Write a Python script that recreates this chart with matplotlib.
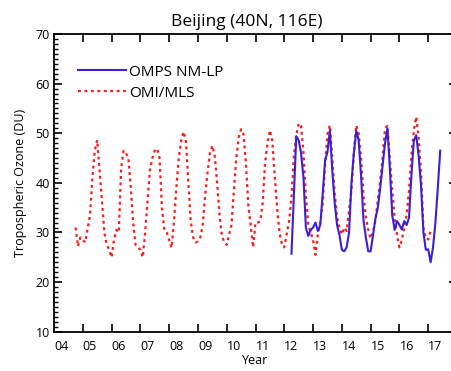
import numpy as np
import matplotlib
matplotlib.use("Agg")
import matplotlib.pyplot as plt

# OMI/MLS monthly tropospheric ozone (DU), Oct 2004 - Feb 2017
omi_start = (2004, 10)
omi_mls = [
    31.0, 27.2, 29.0,
    28.5, 28.0, 30.8, 33.5, 41.0, 46.5, 48.6, 42.5, 36.4, 30.0, 27.5, 26.5,
    25.0, 28.5, 30.5, 30.0, 43.0, 46.5, 46.0, 45.0, 39.0, 32.0, 27.5, 27.0,
    26.5, 25.0, 30.0, 36.5, 42.5, 45.0, 46.5, 46.9, 45.0, 35.0, 30.5, 30.0,
    28.5, 26.9, 32.0, 39.0, 45.0, 48.5, 50.3, 48.5, 40.0, 32.3, 29.0, 28.0,
    28.2, 29.0, 31.5, 37.5, 42.0, 46.0, 47.5, 45.5, 40.0, 33.5, 29.3, 28.0,
    27.5, 29.6, 31.5, 38.5, 45.0, 49.2, 50.8, 49.8, 44.0, 35.5, 31.5, 27.0,
    32.0, 32.0, 32.3, 36.0, 44.0, 48.0, 50.6, 48.5, 41.5, 35.0, 30.0, 27.7,
    27.0, 29.6, 32.3, 37.0, 45.5, 49.5, 52.0, 51.5, 46.0, 37.5, 31.5, 30.0,
    28.5, 25.5, 29.6, 32.0, 35.7, 43.5, 49.9, 51.6, 45.0, 38.0, 33.0, 31.0,
    29.6, 31.0, 30.3, 34.5, 38.5, 46.0, 51.6, 50.0, 45.0, 37.7, 33.0, 30.5,
    28.8, 30.0, 32.5, 36.5, 40.5, 45.0, 51.0, 51.5, 45.0, 38.5, 33.0, 29.5,
    27.0, 28.5, 31.0, 33.5, 38.5, 45.5, 50.5, 53.3, 49.2, 42.0, 31.0, 28.8,
    28.6, 30.3,
]

# OMPS NM-LP monthly tropospheric ozone (DU), Apr 2012 - Jun 2017
omps_start = (2012, 4)
omps = [
    25.7, 37.5, 49.4, 48.6, 46.0, 41.0, 31.0, 29.3, 30.5,
    31.0, 32.0, 30.3, 31.5, 37.7, 44.5, 46.2, 50.6, 42.5, 36.0, 31.5, 29.5,
    26.5, 26.2, 27.0, 30.0, 40.0, 46.0, 50.5, 48.6, 41.5, 32.5, 29.0, 26.2,
    26.2, 29.5, 32.8, 35.0, 39.0, 43.5, 48.0, 51.0, 43.0, 33.5, 30.5, 32.3,
    31.5, 30.6, 32.3, 31.5, 33.0, 41.5, 48.5, 49.6, 45.5, 39.5, 30.0, 26.5,
    26.6, 24.0, 27.0, 32.0, 39.0, 46.5,
]

year_labels = ["04", "05", "06", "07", "08", "09", "10", "11", "12",
               "13", "14", "15", "16", "17"]


def month_axis(start, n):
    y0, m0 = start
    return y0 + (m0 - 1) / 12 + np.arange(n) / 12


plt.rcParams["font.family"] = ["Open Sans", "DejaVu Sans"]

fig = plt.figure(figsize=(4.52, 3.71), dpi=100)
ax = fig.add_axes([54 / 452, 39.3 / 371, 403 / 452, 297.7 / 371])

ax.plot(month_axis(omps_start, len(omps)), omps, color="#3a1fd8", lw=1.5,
        label="OMPS NM-LP", zorder=3)
ax.plot(month_axis(omi_start, len(omi_mls)), omi_mls, color="#ff1a1a",
        lw=1.6, dashes=(1.3, 1.6), label="OMI/MLS", zorder=2)

ax.set_xlim(2004, 2018)
ax.set_ylim(10, 70)

years = np.arange(2004, 2018)
ax.set_xticks(years[1:])
ax.set_xticklabels([])
ax.set_xticks(years + 0.25, year_labels, minor=True)
ax.set_yticks(np.arange(10, 71, 10))
ax.set_yticks(np.arange(10, 71, 1), minor=True)

ax.tick_params(axis="both", which="major", direction="in", length=6,
               width=1.2, top=True, right=True, labelsize=9, colors="black")
ax.tick_params(axis="x", which="minor", length=0, labelsize=9, pad=6)
ax.tick_params(axis="y", which="minor", direction="in", length=3,
               width=1.0, right=True)
ax.tick_params(axis="y", which="major", pad=3)

for s in ax.spines.values():
    s.set_linewidth(1.3)

ax.set_xlabel("Year", fontsize=9, labelpad=1)
ax.set_ylabel("Tropospheric Ozone (DU)", fontsize=9, labelpad=6)
ax.set_title("Beijing (40N, 116E)", fontsize=12.5, x=(247 - 54) / 403, pad=6)

ax.legend(loc="upper left", frameon=False, fontsize=11,
          handlelength=3.1, handletextpad=0.2, labelspacing=0.4,
          bbox_to_anchor=(0.045, 0.918), borderaxespad=0)

fig.savefig("out.png", dpi=100)
